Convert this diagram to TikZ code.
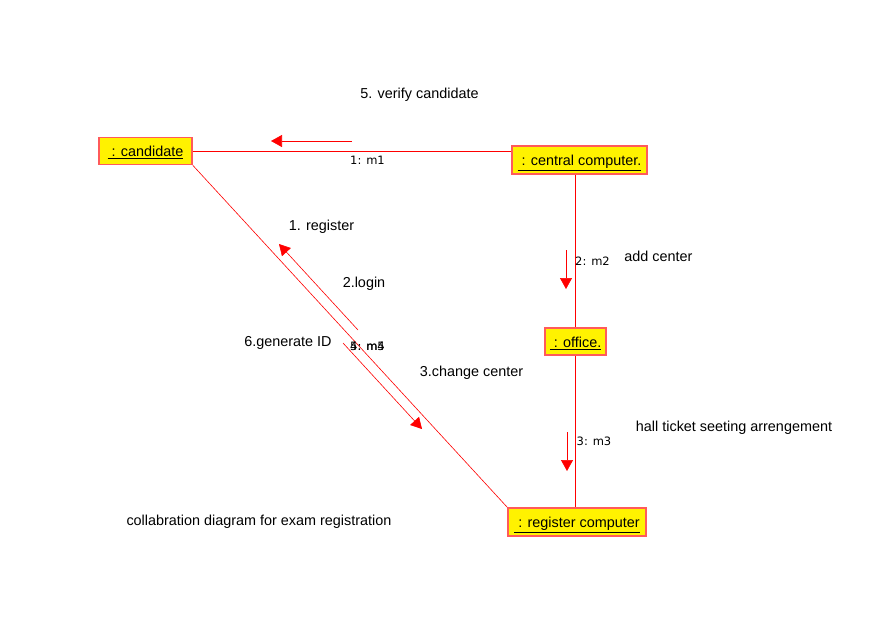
\documentclass[tikz,border=0pt]{standalone}
\usepackage{fontspec}
\setmainfont{Liberation Sans}
\newfontfamily\msgfont{DejaVu Sans}
\usetikzlibrary{arrows.meta}
\definecolor{boxred}{RGB}{255,90,90}
\begin{document}
\begin{tikzpicture}[x=1pt,y=-1pt,font=\fontsize{14.4}{17}\selectfont]
\tikzset{
  obj/.style={draw=boxred,line width=1.5pt,fill=yellow,inner sep=0pt,minimum height=27pt,text height=11.5pt,text depth=0pt},
  link/.style={red,line width=0.6pt},
  msg/.style={red,line width=0.6pt,-{Triangle[length=11pt,width=12pt]}},
  lbl/.style={inner sep=0pt},
  mlbl/.style={inner sep=0pt,font=\msgfont\fontsize{11.5}{13}\selectfont}
}
\useasboundingbox (0,0) rectangle (872,633);
\fill[white] (0,0) rectangle (872,633);
% objects
\node[obj,minimum width=93pt] (cand) at (145.5,151) {\underline{\ : candidate}};
\node[obj,minimum width=135pt,minimum height=28pt] (cc) at (579.5,160) {\underline{\ : central computer.}};
\node[obj,minimum width=61pt] (off) at (575.5,341.5) {\underline{\ : office.}};
\node[obj,minimum width=138pt,minimum height=28pt] (rc) at (577,522) {\underline{\ : register computer}};
% links
\draw[link] (cand.east) -- (cand.east -| cc.west);
\draw[link] (cc.south -| off.north) -- (off.north);
\draw[link] (off.south) -- (off.south |- rc.north);
\draw[link] (cand.south east) -- (rc.north west);
% message arrows
\coordinate (m1s) at (352,141); \coordinate (m1e) at (271,141);
\coordinate (m2s) at (566,250); \coordinate (m2e) at (566,289);
\coordinate (m3s) at (567,432); \coordinate (m3e) at (567,471);
\coordinate (m4s) at (358,330); \coordinate (m4e) at (279,244);
\coordinate (m5s) at (343,343); \coordinate (m5e) at (422,429);
\draw[msg] (m1s) -- (m1e);
\draw[msg] (m2s) -- (m2e);
\draw[msg] (m3s) -- (m3e);
\draw[msg] (m4s) -- (m4e);
\draw[msg] (m5s) -- (m5e);
% message labels
\node[mlbl] (l1) at (367.5,160.5) {1: m1};
\node[mlbl] (l2) at (592.5,261) {2: m2};
\node[mlbl] (l3) at (594,441) {3: m3};
\node[mlbl] (l4) at (367.5,346.5) {4: m4};
\node[mlbl] (l5) at (367.5,346.5) {5: m5};
% text labels
\node[lbl] (t1) at (419.5,94.5) {5. verify candidate};
\node[lbl] (t2) at (321.5,227) {1. register};
\node[lbl] (t3) at (364,283.5) {2.login};
\node[lbl] (t4) at (288,342.5) {6.generate ID};
\node[lbl] (t5) at (471.5,372.5) {3.change center};
\node[lbl] (t6) at (658.5,256.5) {add center};
\node[lbl] (t7) at (734,427.5) {hall ticket seeting arrengement};
\node[lbl] (t8) at (259,521.5) {collabration diagram for exam registration};
\end{tikzpicture}
\end{document}
